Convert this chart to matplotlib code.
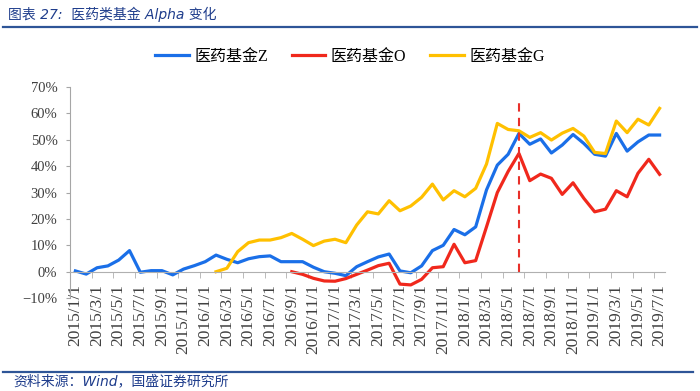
import numpy as np
import pandas as pd
import matplotlib
matplotlib.use('Agg')
import matplotlib.pyplot as plt
from matplotlib.lines import Line2D

# Fonts: serif for numbers, CJK fallback for Chinese
plt.rcParams['font.family'] = ['Liberation Serif', 'Noto Sans CJK SC', 'DejaVu Sans']

# Data (alpha in %, monthly)
months = pd.date_range('2015-01-01', '2019-07-01', freq='MS')
month_labels = [f'{d.year}/{d.month}/1' for d in months]

nan = np.nan
fund_z = [0.3, -0.9, 1.5, 2.2, 4.4, 8.0, -0.2, 0.4, 0.4, -1.2,
          1.0, 2.3, 3.8, 6.3, 4.7, 3.4, 4.9, 5.7, 6.0, 3.8,
          3.8, 3.8, 1.7, 0.0, -0.6, -1.5, 1.9, 3.8, 5.6, 6.7,
          0.3, -0.4, 2.2, 8.0, 10.0, 16.0, 14.0, 17.0, 31.0, 40.4,
          44.5, 52.4, 48.3, 50.3, 45.0, 48.0, 52.0, 48.6, 44.5, 43.8,
          52.4, 45.7, 49.2, 51.8, 51.8]
fund_o = [nan] * 20 + [
          0.0, -1.0, -2.5, -3.5, -3.6, -2.6, -1.0, 0.6, 2.3, 3.2,
          -4.7, -5.0, -2.9, 1.5, 1.9, 10.4, 3.4, 4.2, 17.0, 30.0,
          38.0, 44.8, 34.5, 37.0, 35.4, 29.3, 33.7, 27.8, 22.7, 23.7,
          30.7, 28.4, 37.3, 42.6, 36.9]
fund_g = [nan] * 13 + [
          0.0, 1.3, 7.6, 11.0, 12.0, 12.0, 12.9, 14.5, 12.3, 9.9,
          11.6, 12.3, 11.0, 17.7, 22.7, 21.9, 26.9, 23.1, 24.9, 28.2,
          33.2, 27.2, 30.7, 28.4, 31.6, 40.8, 56.2, 53.9, 53.4, 50.9,
          52.7, 49.9, 52.5, 54.3, 51.4, 45.2, 44.8, 57.1, 52.7, 57.8,
          55.6, 61.9]

series_names = ['医药基金Z', '医药基金O', '医药基金G']
series_colors = ['#1a6fe8', '#f0281c', '#ffc000']
marker_month = '2018/6/1'
marker_top = 65
y_ticks = [-10, 0, 10, 20, 30, 40, 50, 60, 70]

# Figure
fig = plt.figure(figsize=(7, 3.91), dpi=100)
ax = fig.add_axes([0.1, 0.2376, 0.85, 0.5399])

x = np.arange(len(months))
for vals, name, col in zip([fund_z, fund_o, fund_g], series_names, series_colors):
    ax.plot(x, vals, color=col, lw=2.3, label=name)

idx = month_labels.index(marker_month)
ax.plot([idx, idx], [0, marker_top], color='#e8302a', lw=1.5, ls=(0, (4, 3)))

ax.set_xlim(-0.5, len(months) - 0.5)
ax.set_ylim(-10, 70)

# Axes styling
for s in ['top', 'right']:
    ax.spines[s].set_visible(False)
ax.spines['bottom'].set_position(('data', 0))
ax.spines['bottom'].set_color('#b0b0b0')
ax.spines['left'].set_color('#a6a6a6')

ax.set_yticks(y_ticks)
ax.set_yticklabels([f'{v}%'.replace('-', '\u2212') for v in y_ticks])
ax.tick_params(axis='y', length=3, color='#a6a6a6', labelsize=10.5,
               labelcolor='#404040', pad=6)

ax.set_xticks(x[::2])
ax.set_xticklabels(month_labels[::2], rotation=90)
ax.set_xticks(np.arange(-0.5, len(months) - 1, 2), minor=True)
ax.tick_params(axis='x', which='major', length=0, labelsize=12.5,
               labelcolor='#404040', pad=9)
ax.tick_params(axis='x', which='minor', length=4, color='#b0b0b0')

# Legend
fig.legend(loc='center', bbox_to_anchor=(0.5, 1 - 57 / 391), ncol=3,
           frameon=False, fontsize=11.5, handlelength=2.1,
           handletextpad=0.35, columnspacing=1.5)

# Header / footer
fig.add_artist(Line2D([3 / 700, 697 / 700], [1 - 27 / 391] * 2, color='#2e5597', lw=1.6))
fig.add_artist(Line2D([3 / 700, 693 / 700], [1 - 372 / 391] * 2, color='#2e5597', lw=1.6))
fig.text(8 / 700, 1 - 14 / 391, '图表 27:  医药类基金 Alpha 变化', style='italic',
         color='#1f3d8c', fontsize=10, va='center',
         family=['DejaVu Sans', 'Noto Sans CJK SC'])
fig.text(13 / 700, 1 - 381 / 391, '资料来源：Wind，国盛证券研究所', style='italic',
         color='#1f3d8c', fontsize=10, va='center',
         family=['DejaVu Sans', 'Noto Sans CJK SC'])

fig.savefig('out.png', dpi=100)
